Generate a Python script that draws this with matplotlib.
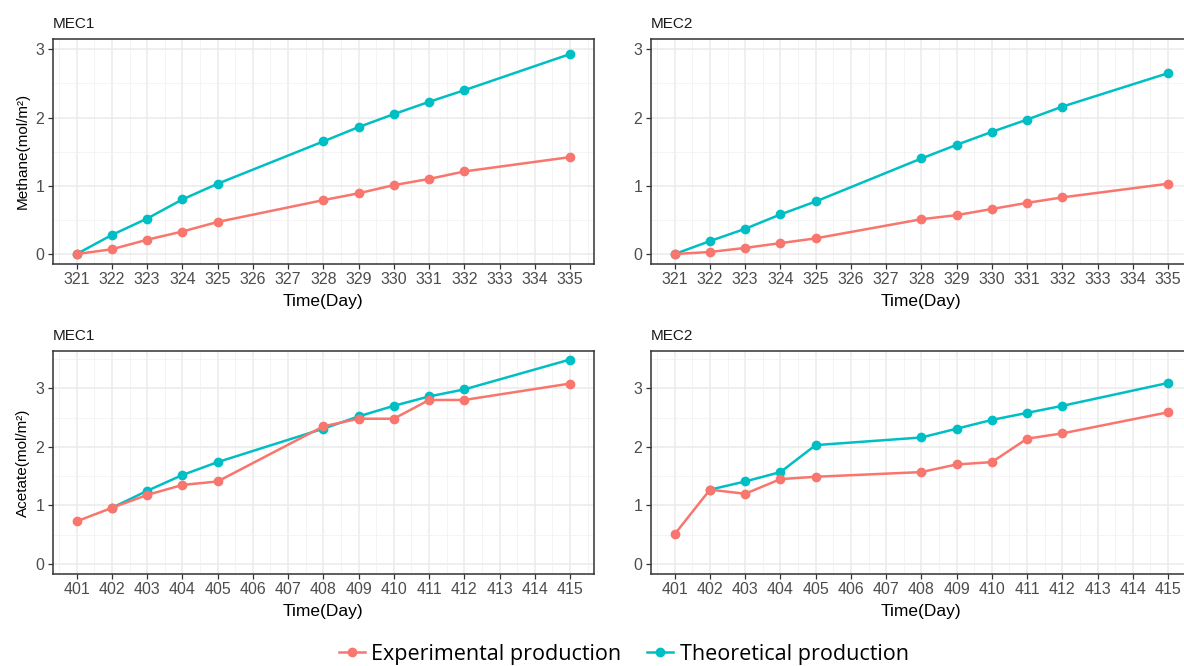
import numpy as np
import matplotlib.pyplot as plt
from matplotlib.ticker import MultipleLocator

# Days
days_ch4 = [321, 322, 323, 324, 325, 328, 329, 330, 331, 332, 335]
days_ac = [401, 402, 403, 404, 405, 408, 409, 410, 411, 412, 415]

# Methane (mol/m²)
ch4_mec1_exp = [0, 0.07, 0.21, 0.33, 0.47, 0.79, 0.89, 1.01, 1.10, 1.21, 1.42]
ch4_mec1_theo = [0, 0.28, 0.52, 0.80, 1.03, 1.65, 1.86, 2.05, 2.23, 2.40, 2.93]
ch4_mec2_exp = [0, 0.03, 0.09, 0.16, 0.23, 0.51, 0.57, 0.66, 0.75, 0.83, 1.03]
ch4_mec2_theo = [0, 0.19, 0.37, 0.58, 0.77, 1.40, 1.60, 1.79, 1.97, 2.16, 2.65]

# Acetate (mol/m²) -- theoretical starts on day 402
ac_mec1_exp = [0.73, 0.96, 1.18, 1.35, 1.41, 2.35, 2.48, 2.48, 2.80, 2.80, 3.08]
ac_mec1_theo = [np.nan, 0.96, 1.25, 1.52, 1.74, 2.31, 2.52, 2.70, 2.86, 2.98, 3.49]
ac_mec2_exp = [0.51, 1.27, 1.20, 1.45, 1.49, 1.57, 1.70, 1.74, 2.14, 2.23, 2.59]
ac_mec2_theo = [np.nan, 1.27, 1.41, 1.57, 2.03, 2.16, 2.31, 2.46, 2.58, 2.70, 3.09]

red = '#F8766D'
cyan = '#00BFC4'

plt.rcParams['font.family'] = ['Liberation Sans', 'DejaVu Sans']

fig = plt.figure(figsize=(11.84, 6.66), dpi=100)

w = 0.4572
lefts = [0.0445, 0.5496]
panels = [
    (lefts[0], 0.604, 0.3374, 'MEC1', days_ch4, ch4_mec1_exp, ch4_mec1_theo, 'Methane(mol/m²)', (-0.142, 3.15)),
    (lefts[1], 0.604, 0.3374, 'MEC2', days_ch4, ch4_mec2_exp, ch4_mec2_theo, '', (-0.142, 3.15)),
    (lefts[0], 0.138, 0.3354, 'MEC1', days_ac, ac_mec1_exp, ac_mec1_theo, 'Acetate(mol/m²)', (-0.17, 3.64)),
    (lefts[1], 0.138, 0.3354, 'MEC2', days_ac, ac_mec2_exp, ac_mec2_theo, '', (-0.17, 3.64)),
]

for left, bottom, h, title, x, exp, theo, ylab, ylim in panels:
    ax = fig.add_axes([left, bottom, w, h])
    ax.plot(x, theo, color=cyan, lw=1.8, marker='o', ms=6, zorder=3,
            label='Theoretical production')
    ax.plot(x, exp, color=red, lw=1.8, marker='o', ms=6, zorder=4,
            label='Experimental production')
    ax.set_xlim(x[0] - 0.68, x[-1] + 0.68)
    ax.set_ylim(*ylim)
    ax.xaxis.set_major_locator(MultipleLocator(1))
    ax.xaxis.set_minor_locator(MultipleLocator(0.5))
    ax.yaxis.set_major_locator(MultipleLocator(1))
    ax.yaxis.set_minor_locator(MultipleLocator(0.5))
    ax.grid(which='major', color='#EBEBEB', lw=1.1, zorder=0)
    ax.grid(which='minor', color='#F2F2F2', lw=0.6, zorder=0)
    ax.set_axisbelow(True)
    for s in ax.spines.values():
        s.set_color('#333333')
        s.set_linewidth(1.1)
    ax.tick_params(which='major', length=3.5, width=0.9, color='#333333',
                   labelcolor='#4D4D4D', labelsize=11.5, pad=2.5)
    ax.tick_params(which='minor', length=0)
    ax.set_xlabel('Time(Day)', fontsize=12.5, labelpad=5)
    if ylab:
        ax.set_ylabel(ylab, fontsize=11, labelpad=4)
    ax.set_title(title, loc='left', fontsize=11, pad=8, color='#1A1A1A')

handles, labels = ax.get_legend_handles_labels()
fig.legend(handles[::-1], labels[::-1], loc='center', bbox_to_anchor=(0.527, 0.018),
           ncol=2, frameon=False, handlelength=1.2, handletextpad=0.3,
           columnspacing=1.2, prop={'family': 'Open Sans', 'size': 15.5})

fig.savefig('out.png', dpi=100)
plt.close()
